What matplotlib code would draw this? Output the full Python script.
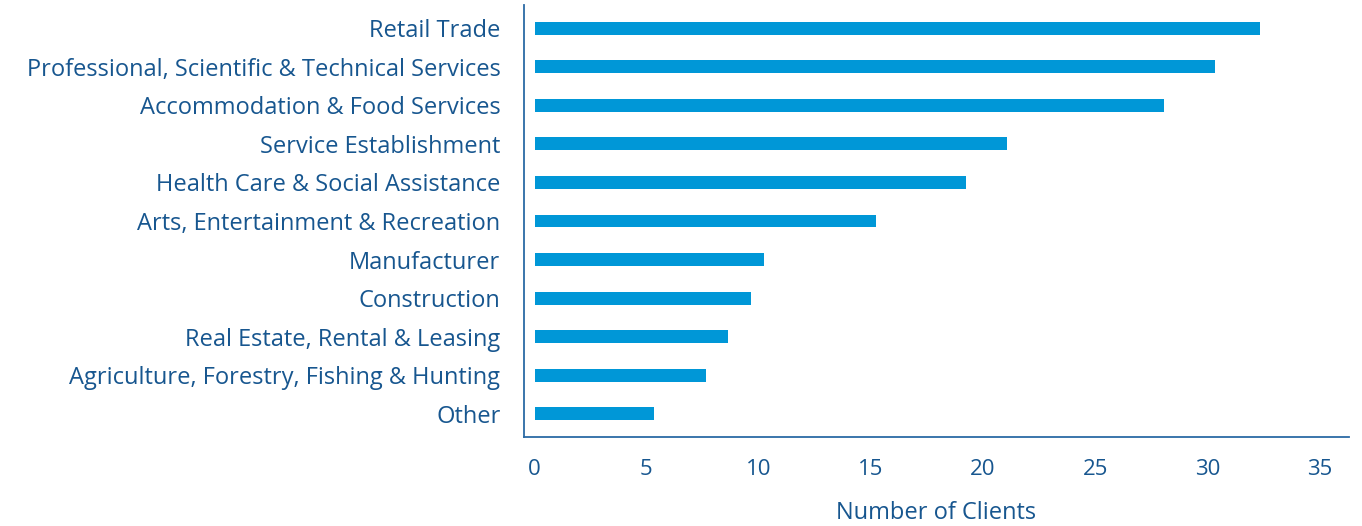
import matplotlib
matplotlib.use("Agg")
import matplotlib.pyplot as plt

CATEGORIES = [
    "Retail Trade",
    "Professional, Scientific & Technical Services",
    "Accommodation & Food Services",
    "Service Establishment",
    "Health Care & Social Assistance",
    "Arts, Entertainment & Recreation",
    "Manufacturer",
    "Construction",
    "Real Estate, Rental & Leasing",
    "Agriculture, Forestry, Fishing & Hunting",
    "Other",
]
CLIENTS = [32.3, 30.3, 28.0, 21.0, 19.2, 15.2, 10.2, 9.6, 8.6, 7.6, 5.3]
XTICKS = [0, 5, 10, 15, 20, 25, 30, 35]

BAR = "#0097d7"
TEXT = "#17568f"
SPINE = "#2b6aa5"

plt.rcParams["font.family"] = ["Open Sans", "DejaVu Sans"]

W, H = 1362, 526
fig = plt.figure(figsize=(W / 100, H / 100), dpi=100)
ax = fig.add_axes([524 / W, 1 - 437 / H, (1349 - 524) / W, (437 - 5) / H])

ypos = list(range(len(CATEGORIES)))[::-1]
ax.barh(ypos, CLIENTS, height=0.33, left=0.05, color=BAR)

ax.set_xlim(-0.45, 36.3)
ax.set_ylim(-0.6, 10.6)
ax.set_yticks(ypos)
ax.set_yticklabels(CATEGORIES, fontsize=17, color=TEXT)
ax.set_xticks(XTICKS)
ax.set_xticklabels([str(t) for t in XTICKS], fontsize=16, color=TEXT)
ax.tick_params(axis="both", length=0)
ax.tick_params(axis="y", pad=17)
ax.tick_params(axis="x", pad=16)
ax.set_xlabel("Number of Clients", fontsize=17, color=TEXT, labelpad=15)

for s in ["top", "right"]:
    ax.spines[s].set_visible(False)
for s in ["left", "bottom"]:
    ax.spines[s].set_color(SPINE)
    ax.spines[s].set_linewidth(1.3)

fig.savefig("out.png", dpi=100)
